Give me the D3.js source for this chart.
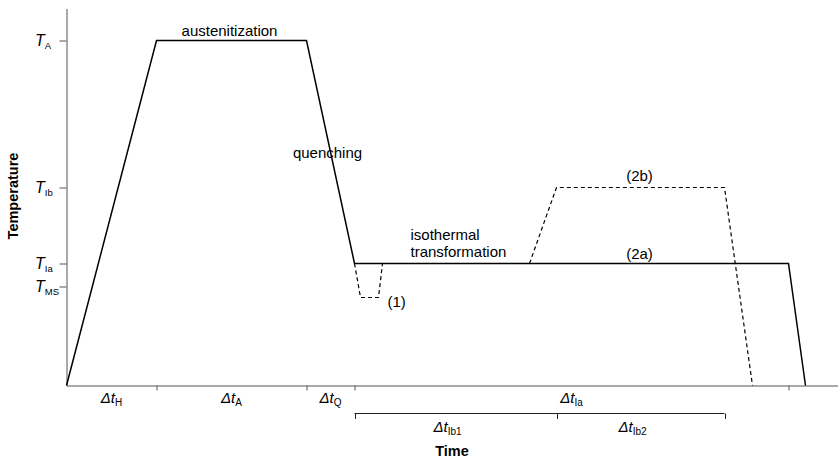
<!DOCTYPE html>
<html><head><meta charset="utf-8">
<script src="https://cdn.jsdelivr.net/npm/d3@7"></script>
<style>
body{margin:0;background:#fff}
svg{display:block}
text{font-family:"Liberation Sans",Arial,Helvetica,sans-serif;fill:#000}
</style>
</head><body>
<svg id="c" width="838" height="460"></svg>
<script>
// ---- data (time and temperature in arbitrary units) ----
const mainTime   = [0, 90, 240, 288, 722, 739];
const mainTemp   = [0, 345, 345, 122, 122, 0];
const path1Time  = [288, 294, 312, 316];
const path1Temp  = [122, 88, 88, 122];
const path2bTime = [463, 490, 658, 686];
const path2bTemp = [122, 198, 198, 0];

const tempTicks      = [345, 198, 122, 99];
const tempTickMain   = ["T", "T", "T", "T"];
const tempTickSubs   = ["A", "Ib", "Ia", "MS"];

const timeTicks      = [90, 240, 288, 722];
const intervalStart  = [0, 90, 240, 288];
const intervalEnd    = [90, 240, 288, 722];
const intervalSubs   = ["H", "A", "Q", "Ia"];

const bracketTicks   = [288, 490, 658];
const bracketSubs    = ["Ib1", "Ib2"];

const noteTexts  = ["austenitization", "quenching", "isothermal", "transformation", "(1)", "(2b)", "(2a)"];
const noteTime   = [163, 261, 344, 344, 321, 573, 573];
const noteTemp   = [350, 228, 146, 128.5, 79, 205, 127];
const noteAnchor = ["middle", "middle", "start", "start", "start", "middle", "middle"];

const timeMax = 771, tempMax = 377;

// ---- drawing ----
const svg = d3.select("#c");
const x = d3.scaleLinear().domain([0, timeMax]).range([66.5, 837.5]);
const y = d3.scaleLinear().domain([0, tempMax]).range([385.5, 8.5]);
const axisColor = "#555";

// y axis
const ya = svg.append("g").attr("transform", `translate(${x(0)},0)`)
  .call(d3.axisLeft(y).tickValues(tempTicks).tickSize(7).tickSizeOuter(0).tickFormat(""));
ya.selectAll("path,line").attr("stroke", axisColor).attr("stroke-width", 1);

// x axis
const xa = svg.append("g").attr("transform", `translate(0,${y(0)})`)
  .call(d3.axisBottom(x).tickValues(timeTicks).tickSize(5).tickSizeOuter(0).tickFormat(""));
xa.selectAll("path,line").attr("stroke", axisColor).attr("stroke-width", 1);

// y tick labels
const yl = svg.append("g").selectAll("text").data(tempTicks).join("text")
  .attr("x", 35).attr("y", d => y(d) + 5.5).attr("font-size", 16);
yl.append("tspan").attr("font-style", "italic").text((d, i) => tempTickMain[i]);
yl.append("tspan").attr("font-size", 9.5).attr("dy", 3).text((d, i) => tempTickSubs[i]);

// interval labels under axis
const il = svg.append("g").selectAll("text").data(intervalSubs).join("text")
  .attr("x", (d, i) => x((intervalStart[i] + intervalEnd[i]) / 2))
  .attr("y", 403).attr("text-anchor", "middle").attr("font-size", 15);
il.append("tspan").attr("font-style", "italic").text("Δt");
il.append("tspan").attr("font-size", 10).attr("dy", 3).text(d => d);

// bracket
const br = svg.append("g").attr("stroke", "#222").attr("stroke-width", 1).attr("fill", "none");
br.append("line").attr("x1", x(bracketTicks[0])).attr("x2", x(bracketTicks[bracketTicks.length - 1]))
  .attr("y1", 413.5).attr("y2", 413.5);
br.selectAll("line.t").data(bracketTicks).join("line").attr("class", "t")
  .attr("x1", d => Math.round(x(d)) + 0.5).attr("x2", d => Math.round(x(d)) + 0.5)
  .attr("y1", 413.5).attr("y2", 419);

const bl = svg.append("g").selectAll("text").data(bracketSubs).join("text")
  .attr("x", (d, i) => x((bracketTicks[i] + bracketTicks[i + 1]) / 2) - 8)
  .attr("y", 431.5).attr("text-anchor", "middle").attr("font-size", 15);
bl.append("tspan").attr("font-style", "italic").text("Δt");
bl.append("tspan").attr("font-size", 10).attr("dy", 3).text(d => d);

// axis titles
svg.append("text").attr("x", 452).attr("y", 456).attr("text-anchor", "middle")
  .attr("font-size", 14.5).attr("font-weight", "bold").text("Time");
svg.append("text").attr("transform", "translate(18,196) rotate(-90)").attr("text-anchor", "middle")
  .attr("font-size", 14.5).attr("font-weight", "bold").text("Temperature");

// curves
const line = d3.line().x(d => x(d[0])).y(d => y(d[1]));
const zipPts = (t, v) => t.map((d, i) => [d, v[i]]);

svg.append("path").datum(zipPts(path1Time, path1Temp)).attr("d", line)
  .attr("fill", "none").attr("stroke", "#000").attr("stroke-width", 1.2).attr("stroke-dasharray", "4,3");
svg.append("path").datum(zipPts(path2bTime, path2bTemp)).attr("d", line)
  .attr("fill", "none").attr("stroke", "#000").attr("stroke-width", 1.2).attr("stroke-dasharray", "4,3");
svg.append("path").datum(zipPts(mainTime, mainTemp)).attr("d", line)
  .attr("fill", "none").attr("stroke", "#000").attr("stroke-width", 1.5).attr("stroke-linejoin", "miter");

// annotations
svg.append("g").selectAll("text").data(noteTexts).join("text")
  .attr("x", (d, i) => x(noteTime[i])).attr("y", (d, i) => y(noteTemp[i]))
  .attr("text-anchor", (d, i) => noteAnchor[i]).attr("font-size", 15).text(d => d);
</script>
</body></html>
